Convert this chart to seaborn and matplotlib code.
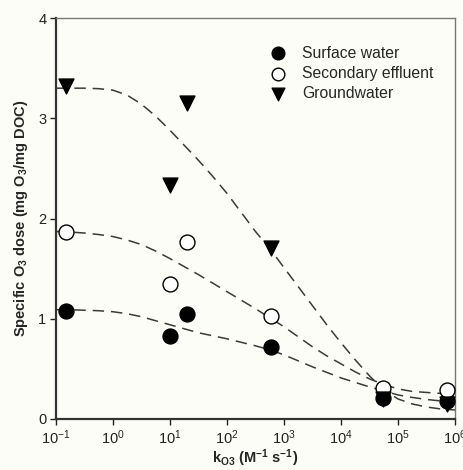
import numpy as np
import pandas as pd
import matplotlib
matplotlib.use("Agg")
import matplotlib.pyplot as plt
import seaborn as sns

# measured points
k_vals = [0.15, 10, 20, 600, 5.5e4, 7.2e5]
surface_water = [1.08, 0.83, 1.05, 0.72, 0.21, 0.18]
secondary_effluent = [1.87, 1.35, 1.77, 1.03, 0.31, 0.29]
groundwater = [3.32, 2.33, 3.15, 1.71, 0.20, 0.15]

# fitted curves, at log10(k) exponents
curve_exp = [-1.0, -0.75, -0.5, -0.25, 0.0, 0.25, 0.5, 0.75, 1.0, 1.25, 1.5,
             1.75, 2.0, 2.25, 2.5, 2.75, 3.0, 3.25, 3.5, 3.75, 4.0, 4.25,
             4.5, 4.75, 5.0, 5.25, 5.5, 5.75, 6.0]
curve_sw = [1.09, 1.09, 1.085, 1.08, 1.07, 1.05, 1.02, 0.98, 0.94, 0.90,
            0.86, 0.83, 0.80, 0.765, 0.73, 0.69, 0.64, 0.58, 0.52, 0.465,
            0.41, 0.365, 0.32, 0.28, 0.24, 0.215, 0.195, 0.18, 0.17]
curve_se = [1.87, 1.865, 1.855, 1.84, 1.82, 1.785, 1.74, 1.675, 1.60, 1.52,
            1.44, 1.355, 1.27, 1.185, 1.10, 1.01, 0.92, 0.82, 0.72, 0.63,
            0.55, 0.47, 0.40, 0.345, 0.30, 0.275, 0.265, 0.255, 0.25]
curve_gw = [3.30, 3.30, 3.30, 3.295, 3.28, 3.23, 3.14, 3.02, 2.88, 2.73,
            2.58, 2.42, 2.25, 2.06, 1.87, 1.70, 1.51, 1.32, 1.13, 0.94,
            0.76, 0.59, 0.43, 0.29, 0.20, 0.15, 0.12, 0.10, 0.09]

x_ticks = [1e-1, 1e0, 1e1, 1e2, 1e3, 1e4, 1e5, 1e6]
x_ticklabels = [r"$\mathregular{10^{-1}}$", r"$\mathregular{10^{0}}$",
                r"$\mathregular{10^{1}}$", r"$\mathregular{10^{2}}$",
                r"$\mathregular{10^{3}}$", r"$\mathregular{10^{4}}$",
                r"$\mathregular{10^{5}}$", r"$\mathregular{10^{6}}$"]
y_ticks = [0, 1, 2, 3, 4]

sns.set_style("ticks")
plt.rcParams["font.family"] = ["Liberation Sans", "DejaVu Sans"]
plt.rcParams["mathtext.fontset"] = "custom"
plt.rcParams["mathtext.rm"] = "Liberation Sans"
plt.rcParams["mathtext.it"] = "Liberation Sans:italic"
plt.rcParams["mathtext.bf"] = "Liberation Sans:bold"

bg = "#fdfdf8"
fig = plt.figure(figsize=(4.64, 4.70), dpi=100, facecolor=bg)
ax = fig.add_axes([56/464, 1-419/470, (455-56)/464, (419-18)/470])
ax.set_facecolor(bg)

curve_k = [10.0 ** e for e in curve_exp]
n = len(curve_k)
curves = pd.DataFrame({"k": curve_k * 3,
                       "y": curve_sw + curve_se + curve_gw,
                       "s": ["sw"] * n + ["se"] * n + ["gw"] * n})
sns.lineplot(data=curves, x="k", y="y", units="s", estimator=None, ax=ax,
             color="#3a3a3a", lw=1.1, legend=False, zorder=2)
for ln in ax.lines:
    ln.set_dashes((7.5, 4.5))

ms = 115
sns.scatterplot(x=k_vals, y=surface_water, ax=ax, marker="o", s=ms,
                color="black", edgecolor="black", linewidth=1,
                label="Surface water", zorder=3)
sns.scatterplot(x=k_vals, y=secondary_effluent, ax=ax, marker="o", s=ms,
                facecolor="white", edgecolor="black", linewidth=1,
                label="Secondary effluent", zorder=3)
sns.scatterplot(x=k_vals, y=groundwater, ax=ax, marker="v", s=ms,
                color="black", edgecolor="black", linewidth=1,
                label="Groundwater", zorder=3)

ax.set_xscale("log")
ax.set_xlim(1e-1, 1e6)
ax.set_ylim(0, 4)
ax.set_xticks(x_ticks)
ax.set_xticklabels(x_ticklabels)
ax.xaxis.set_minor_locator(matplotlib.ticker.NullLocator())
ax.set_yticks(y_ticks)
ax.tick_params(axis="both", which="major", direction="out", length=4,
               width=1, labelsize=10.5, colors="#222222", pad=3)

for side in ["left", "bottom"]:
    ax.spines[side].set_linewidth(1.6)
    ax.spines[side].set_color("#333333")
for side in ["top", "right"]:
    ax.spines[side].set_visible(True)
    ax.spines[side].set_linewidth(1.0)
    ax.spines[side].set_color("#777777")

ax.set_xlabel(r"k$_{\mathregular{O3}}$ (M$^{\mathregular{-1}}$ s$^{\mathregular{-1}}$)",
              fontsize=10.5, fontweight="bold", labelpad=0)
ax.set_ylabel(r"Specific O$_{\mathregular{3}}$ dose (mg O$_{\mathregular{3}}$/mg DOC)",
              fontsize=10.5, fontweight="bold", labelpad=6)

leg = ax.legend(loc="upper left", bbox_to_anchor=(0.518, 0.947), frameon=False,
                fontsize=11.3, handletextpad=0.9, labelspacing=0.33,
                markerscale=0.85, borderaxespad=0.0, handlelength=1.2)

fig.savefig("out.png", dpi=100, facecolor=bg)
